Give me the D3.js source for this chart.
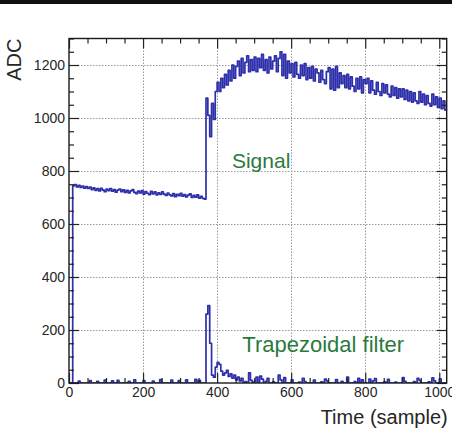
<!DOCTYPE html>
<html>
<head>
<meta charset="utf-8">
<script src="https://cdn.jsdelivr.net/npm/d3@7"></script>
<style>
  html, body { margin: 0; padding: 0; background: #fff; }
  svg { display: block; font-family: "Liberation Sans", Arial, Helvetica, sans-serif; }
</style>
</head>
<body>
<svg id="chart" width="452" height="432"></svg>
<script>
// Histogram bin width in samples; bin i covers [i*binWidth, (i+1)*binWidth)
const binWidth = 5;

// Raw waveform (ADC counts per bin)
const signalADC = [
  0, 0,
  744, 749, 740, 746, 738, 743, 735, 741, 734, 739,
  730, 736, 727, 734, 725, 735, 728, 722, 732, 726,
  734, 724, 730, 720, 728, 732, 722, 729, 719, 727,
  717, 725, 730, 719, 715, 724, 717, 726, 713, 722,
  716, 711, 723, 714, 721, 710, 718, 712, 721, 713,
  708, 717, 710, 706, 715, 703, 712, 707, 716, 705,
  711, 702, 709, 714, 700, 708, 701, 710, 698, 704,
  697, 694,
  1075, 1010, 930, 1055, 995, 1100,
  1135, 1100, 1150, 1115, 1165, 1125, 1180, 1140, 1200, 1150,
  1195, 1215, 1160, 1225, 1170, 1210, 1235, 1175, 1220, 1180,
  1230, 1175, 1225, 1190, 1240, 1180, 1220, 1170, 1230, 1185,
  1215, 1235, 1175, 1225, 1250, 1160, 1240, 1150, 1215, 1170,
  1205, 1155, 1210, 1165, 1150, 1200, 1160, 1205, 1145, 1190,
  1150, 1195, 1140, 1185, 1170, 1135, 1180, 1145, 1130, 1175,
  1190, 1110, 1185, 1105, 1195, 1115, 1170, 1130, 1160, 1115,
  1165, 1110, 1155, 1120, 1100, 1150, 1110, 1155, 1095, 1145,
  1130, 1150, 1095, 1140, 1105, 1090, 1135, 1100, 1085, 1130,
  1095, 1125, 1090, 1080, 1120, 1085, 1115, 1075, 1110, 1080,
  1110, 1070, 1105, 1065, 1100, 1060, 1095, 1065, 1055, 1100,
  1060, 1090, 1050, 1085, 1055, 1045, 1090, 1050, 1080, 1040,
  1075, 1035, 1065, 1030
];

// Trapezoidal filter output (ADC counts per bin)
const trapezoidADC = [
  0, 0, 0, 0, 0, 7, 0, 0, 0, 0,
  0, 9, 0, 0, 0, 6, 0, 0, 0, 11,
  0, 0, 0, 8, 0, 0, 10, 0, 0, 0,
  0, 0, 6, 0, 0, 12, 0, 0, 0, 0,
  9, 0, 0, 0, 0, 7, 0, 0, 0, 13,
  0, 0, 0, 0, 0, 11, 0, 0, 0, 9,
  0, 0, 0, 12, 0, 0, 0, 0, 14, 0,
  10, 0, 0, 0,
  260, 292, 150, 30, 22, 60,
  78, 70, 45, 30, 38, 48, 25, 35, 18, 30,
  12, 22, 8, 18, 0, 5, 0, 38, 10, 0,
  5, 22, 0, 26, 15, 0, 6, 18, 0, 0,
  4, 0, 0, 30, 12, 0, 20, 0, 0, 0,
  12, 0, 0, 0, 3, 0, 18, 5, 0, 0,
  0, 0, 11, 0, 0, 0, 4, 0, 15, 8,
  0, 0, 0, 0, 13, 0, 0, 6, 0, 0,
  22, 0, 0, 0, 5, 0, 18, 0, 12, 0,
  0, 0, 15, 0, 8, 17, 0, 0, 0, 0,
  4, 0, 14, 0, 0, 0, 3, 0, 0, 0,
  20, 6, 0, 0, 0, 0, 5, 0, 18, 10,
  0, 0, 0, 0, 4, 0, 19, 8, 0, 0,
  16, 0, 0, 0
];

const xDomain = [0, 1020];
const yDomain = [0, 1300];
const xMajorTicks = [0, 200, 400, 600, 800, 1000];
const yMajorTicks = [0, 200, 400, 600, 800, 1000, 1200];
const xMinorStep = 50;
const yMinorStep = 50;

const xTitle = "Time (sample)";
const yTitle = "ADC";
const annotations = [
  { text: "Signal", sample: 440, adc: 812, size: 21 },
  { text: "Trapezoidal filter", sample: 468, adc: 117, size: 22 }
];

// ---- layout ----
const svg = d3.select("#chart");
const W = 452, H = 432;
const plot = { left: 69, top: 38.5, right: 446.7, bottom: 383 };

const x = d3.scaleLinear().domain(xDomain).range([plot.left, plot.right]);
const y = d3.scaleLinear().domain(yDomain).range([plot.bottom, plot.top]);

const lineColor = "#2d30aa";
const textColor = "#262626";
const annotColor = "#2b7a3d";

svg.append("rect").attr("width", W).attr("height", H).attr("fill", "#fff");
// dark band along the top of the canvas
svg.append("rect").attr("x", 0).attr("y", 0).attr("width", W).attr("height", 4).attr("fill", "#111");

// ---- grid ----
const grid = svg.append("g").attr("stroke", "#9a9a9a").attr("stroke-width", 1)
  .attr("stroke-dasharray", "1.5,1.5");
grid.selectAll("line.gx").data(xMajorTicks.filter(d => d > xDomain[0]))
  .join("line")
  .attr("x1", d => Math.round(x(d)) + 0.5).attr("x2", d => Math.round(x(d)) + 0.5)
  .attr("y1", plot.top).attr("y2", plot.bottom);
grid.selectAll("line.gy").data(yMajorTicks.filter(d => d > yDomain[0]))
  .join("line")
  .attr("y1", d => Math.round(y(d)) + 0.5).attr("y2", d => Math.round(y(d)) + 0.5)
  .attr("x1", plot.left).attr("x2", plot.right);

// ---- histograms ----
svg.append("clipPath").attr("id", "plotClip")
  .append("rect")
  .attr("x", plot.left).attr("y", plot.top)
  .attr("width", plot.right - plot.left).attr("height", plot.bottom - plot.top);

function binPoints(values) {
  const pts = values.map((v, i) => [i * binWidth, v]);
  pts.push([values.length * binWidth, values[values.length - 1]]);
  return pts;
}

const histLine = d3.line()
  .x(d => x(d[0]))
  .y(d => y(d[1]))
  .curve(d3.curveStepAfter);

const series = svg.append("g").attr("clip-path", "url(#plotClip)");
[signalADC, trapezoidADC].forEach(vals => {
  series.append("path")
    .datum(binPoints(vals))
    .attr("fill", "none")
    .attr("stroke", lineColor)
    .attr("stroke-width", 1.7)
    .attr("stroke-linejoin", "round")
    .attr("d", histLine);
});

// ---- ticks (pointing inward on all four sides) ----
const xMinor = d3.range(xDomain[0], xDomain[1] + 1, xMinorStep).filter(d => !xMajorTicks.includes(d));
const yMinor = d3.range(yDomain[0], yDomain[1] + 1, yMinorStep).filter(d => !yMajorTicks.includes(d));
const majorLen = 10, minorLen = 5;

function tickAxis(axisFn, scale, values, len, transform) {
  const g = svg.append("g")
    .attr("transform", transform)
    .call(axisFn(scale).tickValues(values).tickSize(len).tickFormat(""));
  g.select(".domain").remove();
  g.selectAll(".tick line").attr("stroke", "#222").attr("stroke-width", 1.2);
  return g;
}
// bottom and top
tickAxis(d3.axisTop, x, xMajorTicks, majorLen, `translate(0,${plot.bottom})`);
tickAxis(d3.axisTop, x, xMinor, minorLen, `translate(0,${plot.bottom})`);
tickAxis(d3.axisBottom, x, xMajorTicks, majorLen, `translate(0,${plot.top})`);
tickAxis(d3.axisBottom, x, xMinor, minorLen, `translate(0,${plot.top})`);
// left and right
tickAxis(d3.axisRight, y, yMajorTicks, majorLen, `translate(${plot.left},0)`);
tickAxis(d3.axisRight, y, yMinor, minorLen, `translate(${plot.left},0)`);
tickAxis(d3.axisLeft, y, yMajorTicks, majorLen, `translate(${plot.right},0)`);
tickAxis(d3.axisLeft, y, yMinor, minorLen, `translate(${plot.right},0)`);

// frame
svg.append("rect")
  .attr("x", plot.left).attr("y", plot.top)
  .attr("width", plot.right - plot.left).attr("height", plot.bottom - plot.top)
  .attr("fill", "none").attr("stroke", "#1a1a1a").attr("stroke-width", 1.4);

// ---- tick labels ----
const xLabels = svg.append("g")
  .attr("transform", `translate(0,${plot.bottom})`)
  .call(d3.axisBottom(x).tickValues(xMajorTicks).tickSize(0).tickPadding(4).tickFormat(d3.format("d")));
xLabels.select(".domain").remove();
xLabels.selectAll("text")
  .attr("fill", textColor).attr("font-size", 14)
  .attr("font-family", "'Liberation Sans', Arial, sans-serif");

const yLabels = svg.append("g")
  .attr("transform", `translate(${plot.left},0)`)
  .call(d3.axisLeft(y).tickValues(yMajorTicks).tickSize(0).tickPadding(4).tickFormat(d3.format("d")));
yLabels.select(".domain").remove();
yLabels.selectAll("text")
  .attr("fill", textColor).attr("font-size", 14)
  .attr("font-family", "'Liberation Sans', Arial, sans-serif");

// ---- axis titles ----
svg.append("text")
  .attr("x", plot.right + 1).attr("y", 424)
  .attr("text-anchor", "end")
  .attr("font-size", 20).attr("fill", textColor)
  .text(xTitle);

svg.append("text")
  .attr("transform", `translate(21,${plot.top}) rotate(-90)`)
  .attr("text-anchor", "end")
  .attr("font-size", 20).attr("fill", textColor)
  .text(yTitle);

// ---- annotations ----
svg.selectAll("text.annot").data(annotations).join("text")
  .attr("class", "annot")
  .attr("x", d => x(d.sample)).attr("y", d => y(d.adc))
  .attr("font-size", d => d.size).attr("fill", annotColor)
  .text(d => d.text);
</script>
</body>
</html>
